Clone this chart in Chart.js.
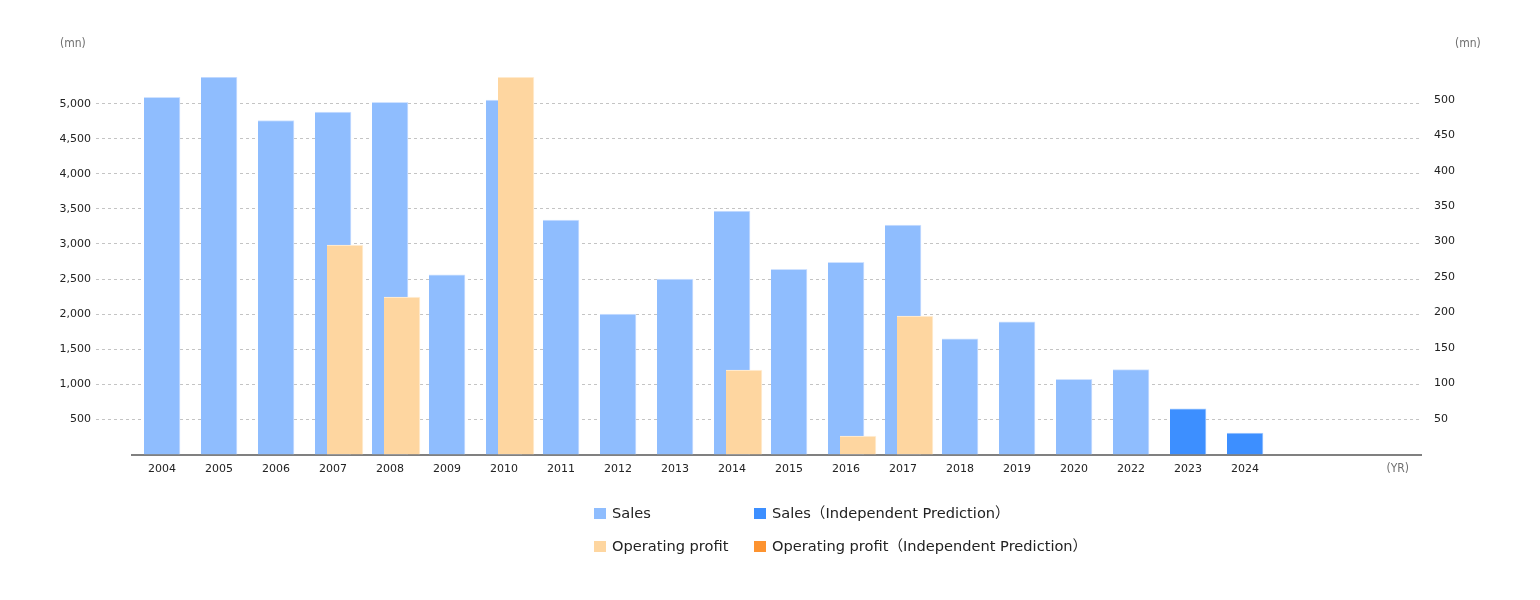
<!DOCTYPE html>
<html>
<head>
<meta charset="utf-8">
<script src="https://cdn.jsdelivr.net/npm/chart.js@4/dist/chart.umd.min.js"></script>
<style>
  html, body { margin: 0; padding: 0; background: #fff; }
  #wrap { position: relative; width: 1540px; height: 600px; }
  #c { position: absolute; left: 0; top: 0; }
  .lg { position: absolute; font-family: "DejaVu Sans", "Noto Sans CJK JP", sans-serif; font-size: 14.6px; color: #222; line-height: 16px; white-space: nowrap; }
  .lg i { position: absolute; left: -18px; top: 3px; width: 12px; height: 11px; }
</style>
</head>
<body>
<div id="wrap">
  <canvas id="c" width="1540" height="600"></canvas>
  <div id="legend"></div>
</div>
<script>
// ---- data ----
const years = ['2004','2005','2006','2007','2008','2009','2010','2011','2012','2013','2014','2015','2016','2017','2018','2019','2020','2022','2023','2024'];
const sales = [5090, 5380, 4760, 4880, 5020, 2560, 5050, 3340, 2000, 2500, 3470, 2640, 2740, 3270, 1650, 1890, 1070, 1210, null, null];
const salesPrediction = [null, null, null, null, null, null, null, null, null, null, null, null, null, null, null, null, null, null, 650, 305];
const profit = [null, null, null, 295, 222, null, 532, null, null, null, 119, null, 26, 195, null, null, null, null, null, null];
const profitPrediction = [null, null, null, null, null, null, null, null, null, null, null, null, null, null, null, null, null, null, null, null];
const seriesNames = ['Sales', 'Sales（Independent Prediction）', 'Operating profit', 'Operating profit（Independent Prediction）'];
const leftTickStep = 500;
const rightTickStep = 50;

// ---- styles ----
const colors = ['#8fbdfe', '#3d8fff', '#fed6a0', '#fd9330'];
const edgeColors = ['#cfe2ff', '#a9cdff', '#fff0dc', '#ffcf9f'];

const toXY = arr => arr.map((v, i) => ({ x: i, y: v }));

// pixel layout constants
const CAT_W = 57;       // pixel width of one year slot
const LEFT_EDGE = 132;  // chart area left
const RIGHT_EDGE = 1421;
const firstCenter = 162;
const xMin = (LEFT_EDGE - firstCenter) / CAT_W;
const xMax = (RIGHT_EDGE - firstCenter) / CAT_W;
const profitShift = 12 / CAT_W;

const edge = { top: 1, right: 1, bottom: 0, left: 0 };

const unitPlugin = {
  id: 'units',
  afterDraw(chart) {
    const ctx = chart.ctx;
    ctx.save();
    ctx.font = '12px "DejaVu Sans Condensed", "DejaVu Sans", sans-serif';
    ctx.fillStyle = '#6f6f6f';
    ctx.textBaseline = 'middle';
    ctx.textAlign = 'left';
    ctx.fillText('(mn)', 60, 44);
    ctx.fillText('(mn)', 1455, 44);
    ctx.textAlign = 'right';
    ctx.fillText('(YR)', 1409, 469);
    ctx.restore();
  }
};

new Chart(document.getElementById('c'), {
  type: 'bar',
  data: {
    datasets: [
      { label: seriesNames[2], data: toXY(profit), xAxisID: 'xp', yAxisID: 'y1', backgroundColor: colors[2], borderColor: edgeColors[2], borderWidth: edge, borderSkipped: false, order: 0 },
      { label: seriesNames[3], data: toXY(profitPrediction), xAxisID: 'xp', yAxisID: 'y1', backgroundColor: colors[3], borderColor: edgeColors[3], borderWidth: edge, borderSkipped: false, order: 0 },
      { label: seriesNames[0], data: toXY(sales), xAxisID: 'x', yAxisID: 'y', backgroundColor: colors[0], borderColor: edgeColors[0], borderWidth: edge, borderSkipped: false, order: 1 },
      { label: seriesNames[1], data: toXY(salesPrediction), xAxisID: 'x', yAxisID: 'y', backgroundColor: colors[1], borderColor: edgeColors[1], borderWidth: edge, borderSkipped: false, order: 1 }
    ]
  },
  options: {
    responsive: false,
    animation: false,
    events: [],
    grouped: false,
    barThickness: 36,
    layout: { padding: { top: 77, left: 0, right: 0, bottom: 0 } },
    plugins: { legend: { display: false }, tooltip: { enabled: false } },
    scales: {
      x: {
        type: 'linear', position: 'bottom', min: xMin, max: xMax, offset: false,
        afterFit(s) { s.height = 145.5; },
        afterBuildTicks(s) { s.ticks = years.map((_, i) => ({ value: i })); },
        grid: { display: false, drawTicks: false, offset: false },
        border: { display: true, color: '#808080', width: 2 },
        ticks: {
          autoSkip: false, maxRotation: 0, padding: 8,
          font: { family: '"DejaVu Sans", sans-serif', size: 11 }, color: '#222',
          callback: v => years[v] ?? ''
        }
      },
      xp: {
        type: 'linear', display: false, position: 'bottom', offset: false,
        grid: { offset: false },
        min: xMin - profitShift, max: xMax - profitShift
      },
      y: {
        position: 'left', min: 0, max: Math.max(...sales.filter(v => v !== null)),
        afterFit(s) { s.width = LEFT_EDGE; },
        afterBuildTicks(s) {
          const out = [];
          for (let v = leftTickStep; v < s.max; v += leftTickStep) out.push({ value: v });
          s.ticks = out;
        },
        border: { display: false, dash: [3, 3] },
        grid: { color: '#c4c4c4', tickLength: 36, tickColor: '#c4c4c4', tickBorderDash: [3, 3], lineWidth: 1 },
        ticks: {
          padding: 5, font: { family: '"DejaVu Sans", sans-serif', size: 11 }, color: '#222',
          callback: v => v.toLocaleString('en-US')
        }
      },
      y1: {
        position: 'right', min: 0, max: Math.max(...profit.filter(v => v !== null)),
        afterFit(s) { s.width = 1540 - RIGHT_EDGE; },
        afterBuildTicks(s) {
          const out = [];
          for (let v = rightTickStep; v < s.max; v += rightTickStep) out.push({ value: v });
          s.ticks = out;
        },
        border: { display: false },
        grid: { display: false, drawOnChartArea: false, drawTicks: false },
        ticks: {
          padding: 13, font: { family: '"DejaVu Sans", sans-serif', size: 11 }, color: '#222',
          callback: v => v.toLocaleString('en-US')
        }
      }
    }
  },
  plugins: [unitPlugin]
});

// ---- HTML legend (two columns) ----
const legendSlots = [
  { idx: 0, left: 612, top: 505 },
  { idx: 1, left: 772, top: 505 },
  { idx: 2, left: 612, top: 538 },
  { idx: 3, left: 772, top: 538 }
];
const lg = document.getElementById('legend');
legendSlots.forEach(s => {
  const d = document.createElement('div');
  d.className = 'lg';
  d.style.left = s.left + 'px';
  d.style.top = s.top + 'px';
  const box = document.createElement('i');
  box.style.background = colors[s.idx];
  d.appendChild(box);
  d.appendChild(document.createTextNode(seriesNames[s.idx]));
  lg.appendChild(d);
});
</script>
</body>
</html>
